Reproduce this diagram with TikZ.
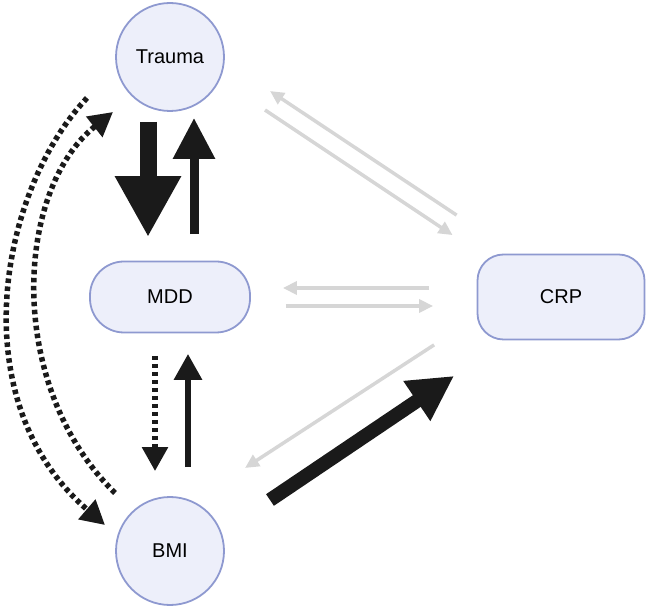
\documentclass[tikz,border=0pt]{standalone}
\usepackage{fontspec}
\setmainfont{Liberation Sans}
\usetikzlibrary{arrows.meta}
\definecolor{nodefill}{HTML}{EDEFFA}
\definecolor{nodeline}{HTML}{8E99D0}
\definecolor{arrowgrey}{HTML}{D6D6D6}
\definecolor{arrowblack}{HTML}{1A1A1A}

\begin{document}
\begin{tikzpicture}[x=1pt,y=1pt,
  var/.style={draw=nodeline,fill=nodefill,line width=1.8pt,font=\fontsize{20}{24}\selectfont},
  circ/.style={var,circle,minimum size=108pt,inner sep=0pt},
  pill/.style={var,rectangle,rounded corners=#1},
  fat/.style={color=arrowblack,line width=17pt,-{Triangle[length=61pt,width=62pt]}},
  mid/.style={color=arrowblack,line width=9pt,-{Triangle[length=41pt,width=40pt]}},
  slim/.style={color=arrowblack,line width=6pt,-{Triangle[length=26pt,width=27pt]}},
  broad/.style={color=arrowblack,line width=14pt,-{Triangle[length=45pt,width=45pt]}},
  dots/.style={color=arrowblack,line width=5.5pt,dash pattern=on 4.5pt off 3.5pt,-{Triangle[length=24pt,width=25pt]}},
  pale/.style={color=arrowgrey,line width=3.5pt,-{Triangle[length=14pt,width=13pt]}}]
\useasboundingbox (0,0) rectangle (647,610);
% variables
\node[circ] (trauma) at (170,553) {Trauma};
\node[pill=34pt,minimum width=160pt,minimum height=71pt] (mdd) at (170,313) {MDD};
\node[pill=26pt,minimum width=167pt,minimum height=85pt] (crp) at (561,313) {CRP};
\node[circ] (bmi) at (170,59) {BMI};
% trauma <-> mdd
\draw[fat] ([shift={(-22,-10)}]trauma.south) -- ([shift={(-22,23.5)}]mdd.north);
\draw[mid] ([shift={(24,26.5)}]mdd.north) -- ([shift={(24,-6)}]trauma.south);
% mdd <-> bmi
\draw[dots] ([shift={(-15,-22.5)}]mdd.south) -- ([shift={(-15,25)}]bmi.north);
\draw[slim] ([shift={(18,29)}]bmi.north) -- ([shift={(18,-20.5)}]mdd.south);
% trauma <-> bmi
\draw[dots] ([shift={(-83,-41)}]trauma.center) .. controls (0,420) and (-40,210) .. ([shift={(-65,26)}]bmi.center);
\draw[dots] ([shift={(-55,58)}]bmi.center) .. controls (5,225) and (15,420) .. ([shift={(-57,-55)}]trauma.center);
% crp links
\draw[pale] ([shift={(-20,38.5)}]crp.north west) -- ([shift={(100,-34)}]trauma.center);
\draw[pale] ([shift={(95,-53)}]trauma.center) -- ([shift={(-24,18.5)}]crp.north west);
\draw[pale] ([shift={(-47.5,9)}]crp.west) -- ([shift={(32,9)}]mdd.east);
\draw[pale] ([shift={(35,-9)}]mdd.east) -- ([shift={(-43.5,-9)}]crp.west);
\draw[pale] ([shift={(-42.5,-4.5)}]crp.south west) -- ([shift={(75,83)}]bmi.center);
\draw[broad] ([shift={(100,51)}]bmi.center) -- ([shift={(-22.5,-35.5)}]crp.south west);
\end{tikzpicture}
\end{document}
